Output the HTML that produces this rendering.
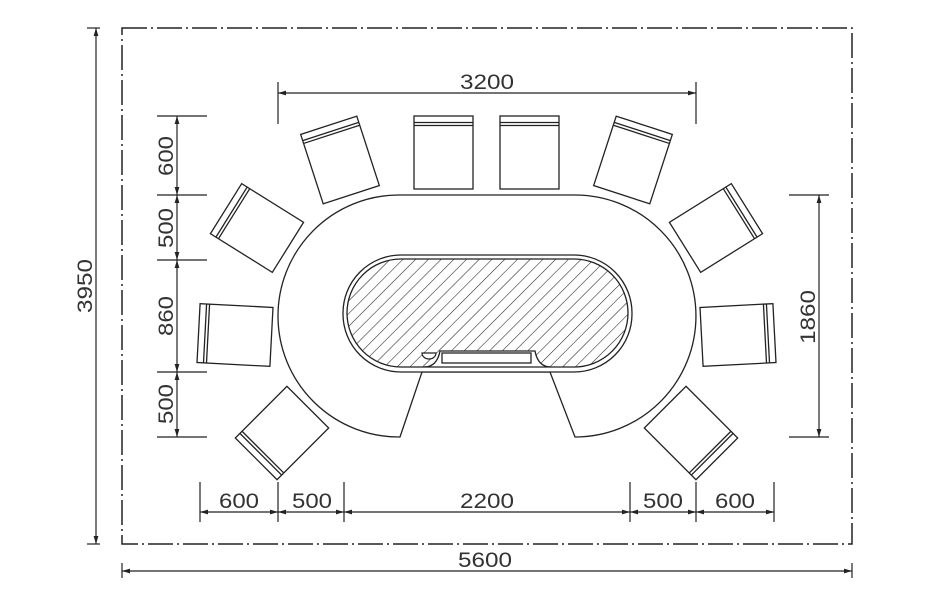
<!DOCTYPE html>
<html><head><meta charset="utf-8"><style>
html,body{margin:0;padding:0;background:#fff;}
svg{display:block;}
text{font-family:"Liberation Sans",sans-serif;font-size:21px;fill:#333;}
</style></head><body>
<svg width="950" height="599" viewBox="0 0 950 599" xmlns="http://www.w3.org/2000/svg">
<defs>
  <pattern id="h" width="9" height="9" patternUnits="userSpaceOnUse" patternTransform="rotate(45)">
    <line x1="0" y1="0" x2="0" y2="9" stroke="#222" stroke-width="1.1"/>
  </pattern>
  <clipPath id="tc"><rect x="347" y="259" width="281" height="108" rx="54"/></clipPath>
  <g id="chair" fill="#fff" stroke="#222" stroke-width="1.3">
    <rect x="-29.5" y="-36.5" width="59" height="73"/>
    <line x1="-29.5" y1="-30" x2="29.5" y2="-30"/>
    <line x1="-29.5" y1="-27" x2="29.5" y2="-27"/>
  </g>
  <marker id="a" viewBox="0 0 10 6" refX="10" refY="3" markerWidth="8" markerHeight="5" orient="auto-start-reverse" markerUnits="userSpaceOnUse">
    <path d="M0,0 L10,3 L0,6 z" fill="#222"/>
  </marker>
</defs>

<rect x="122" y="28" width="730" height="516" fill="none" stroke="#222" stroke-width="1.5" stroke-dasharray="25 4 2 4"/>

<path d="M400 437 A121 121 0 0 1 398 195 L575 195 A121 121 0 0 1 575 437 L550 372 L422 372 Z" fill="none" stroke="#222" stroke-width="1.3"/>

<rect x="343" y="255" width="289" height="117" rx="58" fill="#fff" stroke="#222" stroke-width="1.3"/>
<rect x="347" y="259" width="281" height="108" rx="54" fill="url(#h)" stroke="#222" stroke-width="1.3"/>
<path d="M424 367 Q437 367 440 351 L535 351 Q538 367 551 367 Z" fill="#fff" stroke="#222" stroke-width="1.3" clip-path="url(#tc)"/>
<rect x="442" y="353" width="89" height="10" fill="#fff" stroke="#222" stroke-width="1.3"/>
<path d="M422 353 L436 353 A7 6 0 0 1 422 353 Z" fill="#fff" stroke="#222" stroke-width="1.2"/>

<use href="#chair" transform="translate(443.5,152.5)"/>
<use href="#chair" transform="translate(529.5,152.5)"/>
<use href="#chair" transform="translate(340,160) rotate(-18)"/>
<use href="#chair" transform="translate(257,228) rotate(-58)"/>
<use href="#chair" transform="translate(235,335) rotate(-87)"/>
<use href="#chair" transform="translate(282,433) rotate(-135)"/>
<g transform="translate(973,0) scale(-1,1)">
<use href="#chair" transform="translate(340,160) rotate(-18)"/>
<use href="#chair" transform="translate(257,228) rotate(-58)"/>
<use href="#chair" transform="translate(235,335) rotate(-87)"/>
<use href="#chair" transform="translate(282,433) rotate(-135)"/>
</g>

<g stroke="#222" stroke-width="1.2" fill="none">
  <line x1="278" y1="82" x2="278" y2="124"/>
  <line x1="696" y1="82" x2="696" y2="124"/>
  <line x1="278" y1="93" x2="696" y2="93" marker-start="url(#a)" marker-end="url(#a)"/>
  <line x1="157" y1="116" x2="207" y2="116"/>
  <line x1="157" y1="195" x2="207" y2="195"/>
  <line x1="157" y1="260" x2="207" y2="260"/>
  <line x1="157" y1="372" x2="207" y2="372"/>
  <line x1="157" y1="437" x2="207" y2="437"/>
  <line x1="177" y1="116" x2="177" y2="195" marker-start="url(#a)" marker-end="url(#a)"/>
  <line x1="177" y1="195" x2="177" y2="260" marker-start="url(#a)" marker-end="url(#a)"/>
  <line x1="177" y1="260" x2="177" y2="372" marker-start="url(#a)" marker-end="url(#a)"/>
  <line x1="177" y1="372" x2="177" y2="437" marker-start="url(#a)" marker-end="url(#a)"/>
  <line x1="789" y1="195" x2="829" y2="195"/>
  <line x1="789" y1="437" x2="829" y2="437"/>
  <line x1="819" y1="195" x2="819" y2="437" marker-start="url(#a)" marker-end="url(#a)"/>
  <line x1="200" y1="482" x2="200" y2="522"/>
  <line x1="278" y1="482" x2="278" y2="522"/>
  <line x1="344" y1="482" x2="344" y2="522"/>
  <line x1="630" y1="482" x2="630" y2="522"/>
  <line x1="696" y1="482" x2="696" y2="522"/>
  <line x1="774" y1="482" x2="774" y2="522"/>
  <line x1="200" y1="512" x2="278" y2="512" marker-start="url(#a)" marker-end="url(#a)"/>
  <line x1="278" y1="512" x2="344" y2="512" marker-start="url(#a)" marker-end="url(#a)"/>
  <line x1="344" y1="512" x2="630" y2="512" marker-start="url(#a)" marker-end="url(#a)"/>
  <line x1="630" y1="512" x2="696" y2="512" marker-start="url(#a)" marker-end="url(#a)"/>
  <line x1="696" y1="512" x2="774" y2="512" marker-start="url(#a)" marker-end="url(#a)"/>
  <line x1="87" y1="28" x2="100" y2="28"/>
  <line x1="87" y1="544" x2="100" y2="544"/>
  <line x1="96" y1="28" x2="96" y2="544" marker-start="url(#a)" marker-end="url(#a)"/>
  <line x1="122" y1="563" x2="122" y2="578"/>
  <line x1="852" y1="563" x2="852" y2="578"/>
  <line x1="122" y1="571" x2="852" y2="571" marker-start="url(#a)" marker-end="url(#a)"/>
</g>

<text x="460" y="89" textLength="54" lengthAdjust="spacingAndGlyphs">3200</text>
<text x="219" y="508" textLength="40" lengthAdjust="spacingAndGlyphs">600</text>
<text x="292" y="508" textLength="40" lengthAdjust="spacingAndGlyphs">500</text>
<text x="460" y="508" textLength="54" lengthAdjust="spacingAndGlyphs">2200</text>
<text x="643" y="508" textLength="40" lengthAdjust="spacingAndGlyphs">500</text>
<text x="715" y="508" textLength="40" lengthAdjust="spacingAndGlyphs">600</text>
<text x="458" y="567" textLength="54" lengthAdjust="spacingAndGlyphs">5600</text>
<text transform="translate(173,156) rotate(-90)" x="-20" y="0" textLength="40" lengthAdjust="spacingAndGlyphs">600</text>
<text transform="translate(173,228) rotate(-90)" x="-20" y="0" textLength="40" lengthAdjust="spacingAndGlyphs">500</text>
<text transform="translate(173,316) rotate(-90)" x="-20" y="0" textLength="40" lengthAdjust="spacingAndGlyphs">860</text>
<text transform="translate(173,404) rotate(-90)" x="-20" y="0" textLength="40" lengthAdjust="spacingAndGlyphs">500</text>
<text transform="translate(92,286) rotate(-90)" x="-27" y="0" textLength="54" lengthAdjust="spacingAndGlyphs">3950</text>
<text transform="translate(815,317) rotate(-90)" x="-27" y="0" textLength="54" lengthAdjust="spacingAndGlyphs">1860</text>
</svg>
</body></html>
